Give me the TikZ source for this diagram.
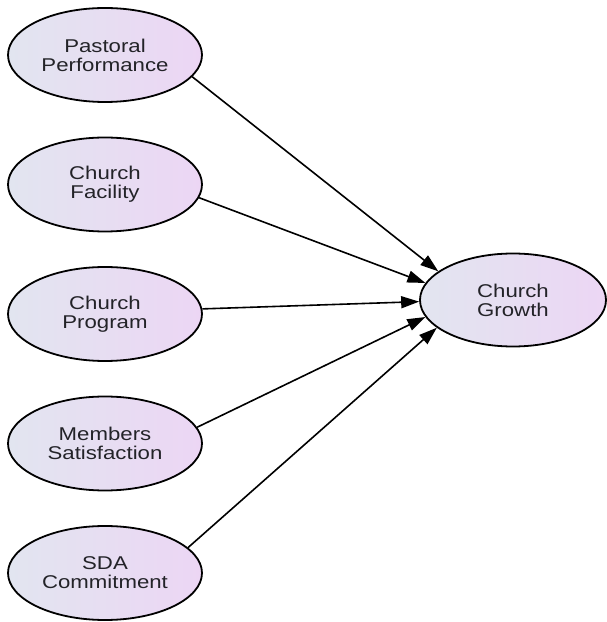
\documentclass[tikz,border=0pt]{standalone}
\usepackage{fontspec}
\setmainfont{Liberation Sans}[FakeStretch=1.2]
\usepackage{tikz}
\usetikzlibrary{arrows.meta,shapes.geometric}
\definecolor{varleft}{RGB}{226,229,240}
\definecolor{varright}{RGB}{236,214,244}
\definecolor{vartext}{RGB}{35,35,40}

\begin{document}
\begin{tikzpicture}[x=1pt,y=1pt,
  construct/.style={ellipse,draw=black,line width=1.8pt,left color=varleft,right color=varright,
    inner sep=0pt,minimum width=194pt,minimum height=94pt,align=center,text=vartext,
    font=\fontsize{18.5}{19}\selectfont},
  effect/.style={draw=black,line width=1.6pt,-{Triangle[length=18pt,width=12pt]}}]
\useasboundingbox (0,0) rectangle (606,622);
\node[construct] (pastoral) at (105,567) {Pastoral\\Performance};
\node[construct] (facility) at (105,437.5) {Church\\Facility};
\node[construct] (program) at (105,308) {Church\\Program};
\node[construct] (members) at (105,178.5) {Members\\Satisfaction};
\node[construct] (sda) at (105,49) {SDA\\Commitment};
\node[construct,minimum width=186pt,minimum height=93pt] (growth) at (513,322) {Church\\Growth};
% paths into the outcome
\draw[effect] (pastoral.-14) -- (growth.159);
\draw[effect] (facility.-8) -- (growth.169);
\draw[effect] (program.3) -- (growth.181);
\draw[effect] (members.10) -- (growth.191);
\draw[effect] (sda.17) -- (growth.200);
\end{tikzpicture}
\end{document}
